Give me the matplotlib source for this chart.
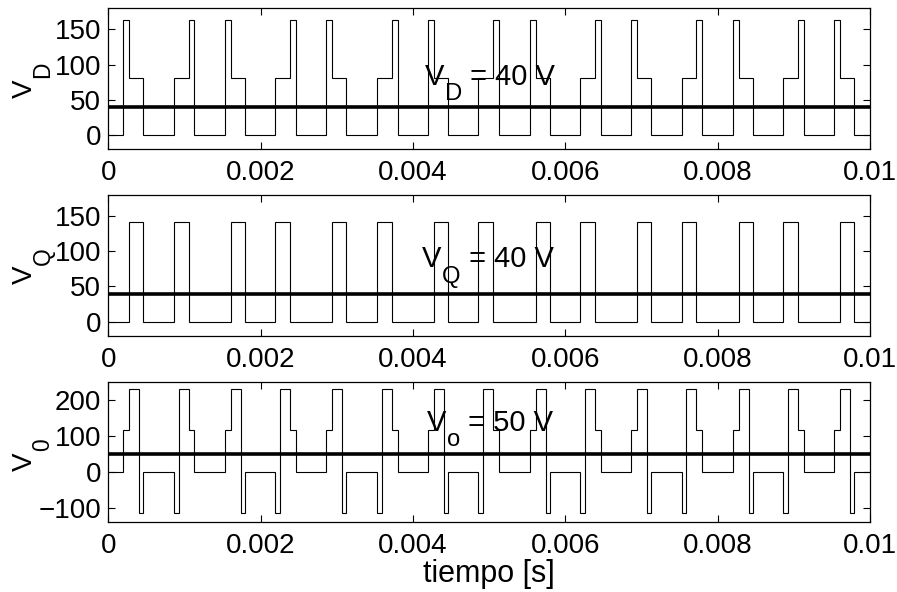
import matplotlib
matplotlib.use("Agg")
import matplotlib.pyplot as plt

plt.rcParams["font.family"] = ["Liberation Sans", "DejaVu Sans"]
plt.rcParams["axes.unicode_minus"] = True

# switching instants [s], shared by the three waveforms
t_edges = [
    0.000197, 0.000276, 0.000407, 0.000460, 0.000859, 0.000923, 0.001054, 0.001132,
    0.001530, 0.001609, 0.001740, 0.001793, 0.002192, 0.002256, 0.002387, 0.002465,
    0.002864, 0.002943, 0.003074, 0.003127, 0.003526, 0.003590, 0.003721, 0.003799,
    0.004197, 0.004276, 0.004407, 0.004460, 0.004859, 0.004923, 0.005054, 0.005132,
    0.005530, 0.005609, 0.005740, 0.005793, 0.006192, 0.006256, 0.006387, 0.006465,
    0.006864, 0.006943, 0.007074, 0.007127, 0.007526, 0.007590, 0.007721, 0.007799,
    0.008197, 0.008276, 0.008407, 0.008460, 0.008859, 0.008923, 0.009054, 0.009132,
    0.009530, 0.009609, 0.009740, 0.009793,
]
t_start = 0.0
t_end = 0.01

# level held after each instant (first value = level before the first edge)
vd_levels = [
    0,
    163, 81, 81, 0, 81, 81, 163, 0,
    163, 81, 81, 0, 81, 81, 163, 0,
    163, 81, 81, 0, 81, 81, 163, 0,
    163, 81, 81, 0, 81, 81, 163, 0,
    163, 81, 81, 0, 81, 81, 163, 0,
    163, 81, 81, 0, 81, 81, 163, 0,
    163, 81, 81, 0, 81, 81, 163, 0,
    163, 81, 81, 0,
]
vq_levels = [
    0,
    0, 141, 141, 0, 141, 141, 0, 0,
    0, 141, 141, 0, 141, 141, 0, 0,
    0, 141, 141, 0, 141, 141, 0, 0,
    0, 141, 141, 0, 141, 141, 0, 0,
    0, 141, 141, 0, 141, 141, 0, 0,
    0, 141, 141, 0, 141, 141, 0, 0,
    0, 141, 141, 0, 141, 141, 0, 0,
    0, 141, 141, 0,
]
v0_levels = [
    0,
    115, 231, -115, 0, -115, 231, 115, 0,
    115, 231, -115, 0, -115, 231, 115, 0,
    115, 231, -115, 0, -115, 231, 115, 0,
    115, 231, -115, 0, -115, 231, 115, 0,
    115, 231, -115, 0, -115, 231, 115, 0,
    115, 231, -115, 0, -115, 231, 115, 0,
    115, 231, -115, 0, -115, 231, 115, 0,
    115, 231, -115, 0,
]

# mean values
vd_mean = 40
vq_mean = 40
v0_mean = 50

x_ticks = [0, 0.002, 0.004, 0.006, 0.008, 0.01]
x_ticklabels = ["0", "0.002", "0.004", "0.006", "0.008", "0.01"]

FS = 20


def label_with_sub(ax, xy, main, sub, rest, fs, coords="data"):
    # MATLAB-like subscript: big and well below the baseline
    t1 = ax.annotate(main, xy=xy, xycoords=coords, fontsize=fs,
                     ha="left", va="baseline", annotation_clip=False)
    t2 = ax.annotate(sub, xy=(1, 0), xycoords=t1, xytext=(0.5, -6.5),
                     textcoords="offset points", fontsize=fs * 0.82,
                     ha="left", va="baseline", annotation_clip=False)
    if rest:
        ax.annotate(rest, xy=(1, 0), xycoords=(t2, t1), fontsize=fs,
                    ha="left", va="bottom", annotation_clip=False)


def ylabel_with_sub(ax, main, sub, fs):
    v = ax.text(-0.1094, 0.43, main, transform=ax.transAxes, rotation=90,
                fontsize=fs, ha="center", va="center")
    ax.annotate(sub, xy=(1, 1), xycoords=v, xytext=(12, 1),
                textcoords="offset points", rotation=90, fontsize=fs * 0.82,
                ha="right", va="bottom", annotation_clip=False)


panels = [
    (vd_levels, vd_mean, "D", ("V", "D", " = 40 V"),
     [0, 50, 100, 150], (-20, 180), (0.00416, 71), [0.1207, 0.7478, 0.8492, 0.2382]),
    (vq_levels, vq_mean, "Q", ("V", "Q", " = 40 V"),
     [0, 50, 100, 150], (-20, 180), (0.00412, 77), [0.1207, 0.4329, 0.8492, 0.2377]),
    (v0_levels, v0_mean, "0", ("V", "o", " = 50 V"),
     [-100, 0, 100, 200], (-140, 250), (0.00418, 113), [0.1207, 0.1177, 0.8492, 0.2375]),
]

fig = plt.figure(figsize=(8.97, 5.92), dpi=100)
edges = [t_start] + t_edges + [t_end]

for levels, mean, ysub, txt, yt, ylim, txy, rect in panels:
    ax = fig.add_axes(rect)
    ax.stairs(levels, edges, baseline=None, color="black", linewidth=0.8)
    ax.axhline(mean, color="black", linewidth=2.6)
    ax.set_xlim(t_start, t_end)
    ax.set_ylim(*ylim)
    ax.set_xticks(x_ticks)
    ax.set_xticklabels(x_ticklabels)
    ax.set_yticks(yt)
    ax.tick_params(direction="in", top=True, right=True, length=5,
                   width=0.8, labelsize=FS)
    ax.tick_params(axis="x", pad=8)
    ax.tick_params(axis="y", pad=5)
    ylabel_with_sub(ax, "V", ysub, FS)
    label_with_sub(ax, txy, txt[0], txt[1], txt[2], FS + 1)
    for s in ax.spines.values():
        s.set_linewidth(0.9)

ax.set_xlabel("tiempo [s]", fontsize=22, labelpad=0)

fig.savefig("out.png", dpi=100)
